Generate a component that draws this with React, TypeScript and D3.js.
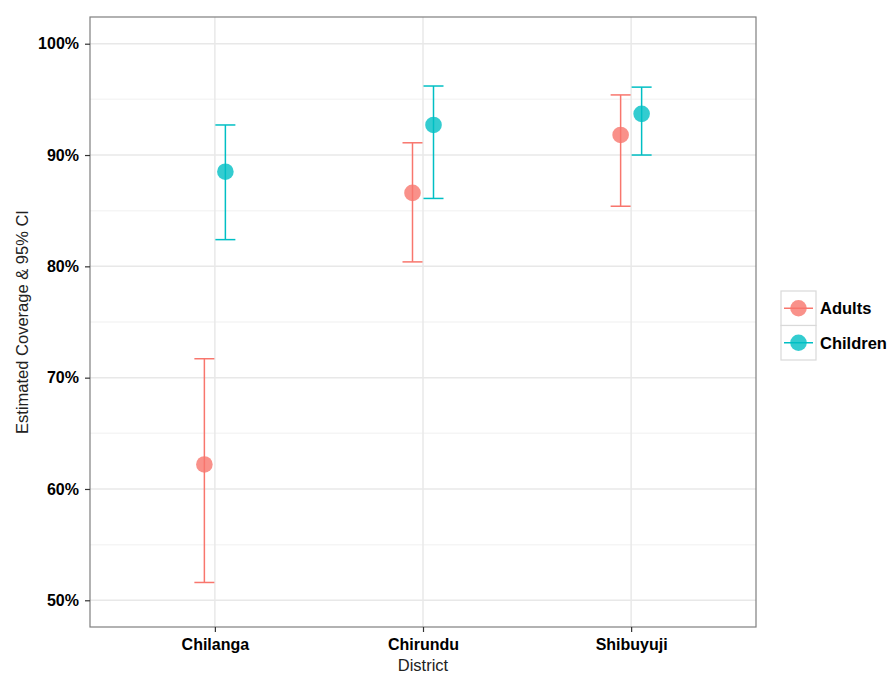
import React, { useEffect, useRef } from 'react';
import * as d3 from 'd3';

const districts = ['Chilanga', 'Chirundu', 'Shibuyuji'];
const groups = ['Adults', 'Children'];
const adultsEst = [62.2, 86.6, 91.8];
const adultsLow = [51.6, 80.4, 85.4];
const adultsHigh = [71.7, 91.1, 95.4];
const childrenEst = [88.5, 92.7, 93.7];
const childrenLow = [82.4, 86.1, 90.0];
const childrenHigh = [92.7, 96.2, 96.1];
const yTicks = [50, 60, 70, 80, 90, 100];
const yMinor = [55, 65, 75, 85, 95];

const colors = ['#F8766D', '#00BFC4'];

export default function App() {
  const svgRef = useRef<SVGSVGElement>(null);

  useEffect(() => {
    const svg = d3.select(svgRef.current);
    svg.selectAll('*').remove();

    const left = 90, right = 756, top = 17, bottom = 627;

    // ggplot-style discrete positions
    const xPos = d3.scalePoint().domain(districts).range([left, right]).padding(0.6);
    const dodge = d3.scalePoint().domain(groups).range([-10.5, 10.5]);
    const y = d3.scaleLinear().domain([47.6, 102.4]).range([bottom, top]);

    const font = 'Liberation Sans, Arial, sans-serif';

    // panel
    svg.append('rect').attr('x', left).attr('y', top).attr('width', right - left).attr('height', bottom - top)
      .attr('fill', 'white');

    svg.append('g').selectAll('line').data(yMinor).join('line')
      .attr('x1', left).attr('x2', right).attr('y1', d => y(d)).attr('y2', d => y(d))
      .attr('stroke', '#f5f5f5').attr('stroke-width', 1.5);
    svg.append('g').selectAll('line').data(yTicks).join('line')
      .attr('x1', left).attr('x2', right).attr('y1', d => y(d)).attr('y2', d => y(d))
      .attr('stroke', '#e8e8e8').attr('stroke-width', 1.5);
    svg.append('g').selectAll('line').data(districts).join('line')
      .attr('x1', d => xPos(d)!).attr('x2', d => xPos(d)!).attr('y1', top).attr('y2', bottom)
      .attr('stroke', '#e8e8e8').attr('stroke-width', 1.5);

    const series = [
      { name: 'Adults', est: adultsEst, low: adultsLow, high: adultsHigh },
      { name: 'Children', est: childrenEst, low: childrenLow, high: childrenHigh },
    ];

    series.forEach((s, si) => {
      const g = svg.append('g').attr('stroke', colors[si]).attr('stroke-width', 1.5);
      districts.forEach((d, i) => {
        const cx = xPos(d)! + dodge(s.name)!;
        g.append('line').attr('x1', cx).attr('x2', cx).attr('y1', y(s.low[i])).attr('y2', y(s.high[i]));
        g.append('line').attr('x1', cx - 10).attr('x2', cx + 10).attr('y1', y(s.low[i])).attr('y2', y(s.low[i]));
        g.append('line').attr('x1', cx - 10).attr('x2', cx + 10).attr('y1', y(s.high[i])).attr('y2', y(s.high[i]));
      });
      svg.append('g').selectAll('circle').data(districts).join('circle')
        .attr('cx', d => xPos(d)! + dodge(s.name)!)
        .attr('cy', (d, i) => y(s.est[i]))
        .attr('r', 8.3)
        .attr('fill', colors[si]).attr('fill-opacity', 0.8);
    });

    svg.append('rect').attr('x', left).attr('y', top).attr('width', right - left).attr('height', bottom - top)
      .attr('fill', 'none').attr('stroke', '#7f7f7f').attr('stroke-width', 1.2);

    // y axis
    const yAxis = svg.append('g').attr('transform', `translate(${left},0)`)
      .call(d3.axisLeft(y).tickValues(yTicks).tickSize(5).tickPadding(6).tickFormat(d => `${d}%`));
    yAxis.select('.domain').remove();
    yAxis.selectAll('line').attr('stroke', '#333').attr('stroke-width', 1.2);
    yAxis.selectAll('text').attr('font-family', font).attr('font-size', 16).attr('font-weight', 'bold').attr('fill', '#000');

    // x axis
    const xAxis = svg.append('g').attr('transform', `translate(0,${bottom})`)
      .call(d3.axisBottom(xPos).tickSize(5).tickPadding(7));
    xAxis.select('.domain').remove();
    xAxis.selectAll('line').attr('stroke', '#333').attr('stroke-width', 1.2);
    xAxis.selectAll('text').attr('font-family', font).attr('font-size', 16).attr('font-weight', 'bold').attr('fill', '#000');

    svg.append('text').attr('x', xPos('Chirundu')!).attr('y', 671).attr('text-anchor', 'middle')
      .attr('font-family', font).attr('font-size', 16.5).attr('fill', '#222').text('District');
    svg.append('text').attr('transform', `translate(28,${(top + bottom) / 2}) rotate(-90)`).attr('text-anchor', 'middle')
      .attr('font-family', font).attr('font-size', 16.5).attr('fill', '#222').text('Estimated Coverage & 95% CI');

    // legend
    const legend = svg.append('g').attr('transform', 'translate(781,291)');
    groups.forEach((gname, i) => {
      const gy = i * 34.5;
      legend.append('rect').attr('x', 0).attr('y', gy).attr('width', 35).attr('height', 34.5)
        .attr('fill', 'white').attr('stroke', '#d9d9d9').attr('stroke-width', 1.2);
      legend.append('line').attr('x1', 3).attr('x2', 32).attr('y1', gy + 17.25).attr('y2', gy + 17.25)
        .attr('stroke', colors[i]).attr('stroke-width', 1.5);
      legend.append('circle').attr('cx', 17.5).attr('cy', gy + 17.25).attr('r', 8.3)
        .attr('fill', colors[i]).attr('fill-opacity', 0.8);
      legend.append('text').attr('x', 39).attr('y', gy + 17.25).attr('dy', '0.35em')
        .attr('font-family', font).attr('font-size', 16.5).attr('font-weight', 'bold').attr('fill', '#000').text(gname);
    });
  }, []);

  return (
    <svg ref={svgRef} width={891} height={675} style={{ position: 'absolute', left: 0, top: 0, background: 'white' }} />
  );
}
